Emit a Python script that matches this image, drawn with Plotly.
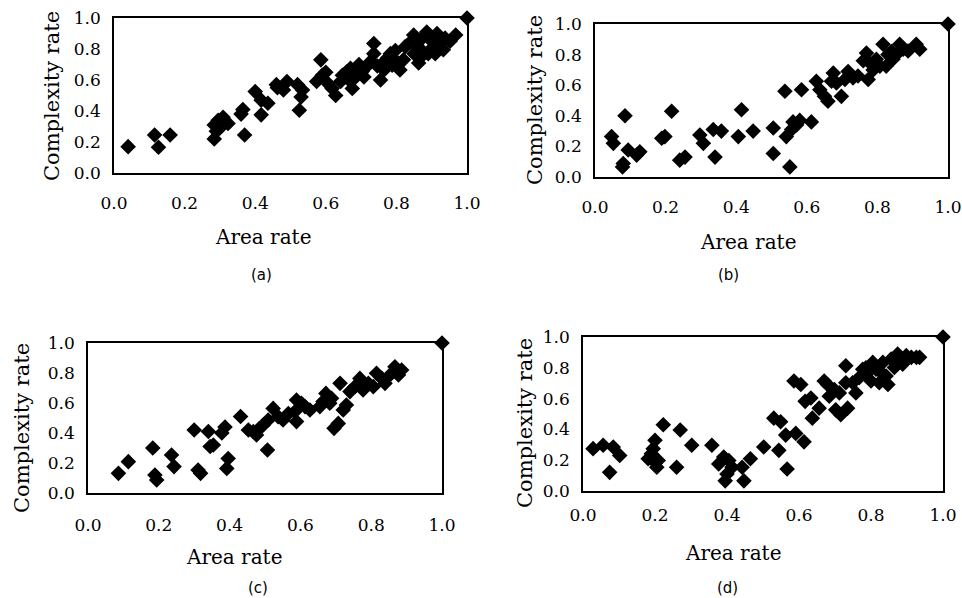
import plotly.graph_objects as go

# --- data ---
a_x = [0.04, 0.115, 0.126, 0.159, 0.284, 0.284, 0.295, 0.309, 0.323, 0.30, 0.29,
       0.365, 0.37, 0.36, 0.40, 0.417, 0.417, 0.436, 0.46, 0.48, 0.49, 0.463,
       0.52, 0.53, 0.525, 0.534, 0.574, 0.586, 0.59, 0.60, 0.605, 0.618, 0.628,
       0.642, 0.647, 0.66, 0.67, 0.675, 0.685, 0.694, 0.703, 0.717, 0.727, 0.736,
       0.736, 0.746, 0.755, 0.76, 0.774, 0.783, 0.797, 0.80, 0.81, 0.82, 0.825,
       0.84, 0.849, 0.858, 0.863, 0.868, 0.877, 0.886, 0.89, 0.896, 0.905, 0.915,
       0.924, 0.933, 0.938, 0.952, 0.968, 0.666, 0.708, 0.765, 0.788, 0.85, 0.87,
       0.91, 1.0]
a_y = [0.17, 0.245, 0.166, 0.245, 0.22, 0.31, 0.34, 0.36, 0.32, 0.29, 0.27,
       0.41, 0.245, 0.38, 0.525, 0.47, 0.375, 0.45, 0.57, 0.535, 0.59, 0.55,
       0.57, 0.49, 0.405, 0.535, 0.59, 0.73, 0.63, 0.65, 0.58, 0.545, 0.50,
       0.59, 0.63, 0.655, 0.675, 0.545, 0.62, 0.70, 0.655, 0.69, 0.72, 0.835,
       0.77, 0.69, 0.60, 0.705, 0.74, 0.77, 0.79, 0.72, 0.665, 0.73, 0.815,
       0.845, 0.89, 0.835, 0.71, 0.80, 0.88, 0.91, 0.77, 0.86, 0.815, 0.90,
       0.835, 0.795, 0.87, 0.85, 0.89, 0.60, 0.62, 0.665, 0.695, 0.77, 0.75,
       0.77, 1.0]

b_x = [0.047, 0.052, 0.085, 0.08, 0.078, 0.094, 0.118, 0.127, 0.189, 0.198,
       0.217, 0.24, 0.255, 0.297, 0.307, 0.335, 0.34, 0.358, 0.406, 0.415,
       0.448, 0.505, 0.505, 0.538, 0.552, 0.542, 0.557, 0.561, 0.571, 0.58,
       0.585, 0.613, 0.627, 0.637, 0.65, 0.66, 0.67, 0.675, 0.684, 0.698,
       0.708, 0.717, 0.731, 0.745, 0.769, 0.774, 0.778, 0.788, 0.797, 0.816,
       0.825, 0.83, 0.844, 0.858, 0.863, 0.873, 0.887, 0.91, 0.92, 0.76,
       0.807, 0.84, 1.0]
b_y = [0.264, 0.22, 0.40, 0.088, 0.066, 0.176, 0.143, 0.165, 0.253, 0.264,
       0.43, 0.11, 0.13, 0.275, 0.22, 0.31, 0.13, 0.30, 0.264, 0.44,
       0.30, 0.32, 0.154, 0.56, 0.066, 0.264, 0.31, 0.36, 0.34, 0.37,
       0.57, 0.36, 0.626, 0.57, 0.527, 0.495, 0.626, 0.68, 0.615, 0.527,
       0.637, 0.69, 0.648, 0.66, 0.81, 0.637, 0.747, 0.70, 0.77, 0.868,
       0.725, 0.80, 0.77, 0.81, 0.868, 0.835, 0.824, 0.868, 0.835, 0.76,
       0.725, 0.82, 1.0]

c_x = [0.086, 0.114, 0.183, 0.189, 0.194, 0.236, 0.243, 0.30, 0.311, 0.318,
       0.34, 0.345, 0.354, 0.378, 0.387, 0.392, 0.396, 0.431, 0.453, 0.467,
       0.476, 0.484, 0.495, 0.507, 0.509, 0.523, 0.537, 0.551, 0.566, 0.584,
       0.589, 0.589, 0.603, 0.613, 0.627, 0.655, 0.664, 0.672, 0.683, 0.688,
       0.695, 0.707, 0.712, 0.721, 0.73, 0.74, 0.754, 0.768, 0.777, 0.792,
       0.806, 0.815, 0.83, 0.839, 0.853, 0.867, 0.877, 0.886, 1.0]
c_y = [0.131, 0.209, 0.30, 0.12, 0.087, 0.253, 0.176, 0.42, 0.153, 0.131,
       0.41, 0.31, 0.32, 0.40, 0.44, 0.164, 0.23, 0.51, 0.42, 0.41,
       0.387, 0.43, 0.453, 0.287, 0.487, 0.564, 0.509, 0.487, 0.53, 0.542,
       0.476, 0.62, 0.598, 0.576, 0.553, 0.576, 0.61, 0.664, 0.598, 0.631,
       0.431, 0.464, 0.731, 0.553, 0.587, 0.676, 0.709, 0.764, 0.687, 0.731,
       0.709, 0.798, 0.764, 0.731, 0.787, 0.842, 0.787, 0.82, 1.0]

d_x = [0.028, 0.056, 0.074, 0.084, 0.102, 0.181, 0.19, 0.195, 0.2, 0.2,
       0.205, 0.209, 0.223, 0.26, 0.27, 0.302, 0.358, 0.377, 0.391, 0.395,
       0.40, 0.405, 0.414, 0.442, 0.447, 0.465, 0.502, 0.53, 0.544, 0.549,
       0.563, 0.567, 0.586, 0.591, 0.605, 0.614, 0.617, 0.633, 0.637, 0.656,
       0.67, 0.679, 0.684, 0.698, 0.702, 0.712, 0.716, 0.73, 0.73, 0.735,
       0.749, 0.758, 0.767, 0.777, 0.786, 0.80, 0.814, 0.823, 0.833, 0.842,
       0.847, 0.856, 0.865, 0.874, 0.884, 0.898, 0.912, 0.926, 0.935, 0.786,
       0.805, 0.828, 0.865, 0.888, 1.0]
d_y = [0.275, 0.297, 0.121, 0.286, 0.231, 0.209, 0.242, 0.275, 0.33, 0.187,
       0.154, 0.198, 0.43, 0.154, 0.396, 0.297, 0.297, 0.176, 0.22, 0.066,
       0.11, 0.198, 0.154, 0.154, 0.066, 0.209, 0.286, 0.473, 0.264, 0.45,
       0.363, 0.143, 0.714, 0.374, 0.692, 0.319, 0.582, 0.604, 0.473, 0.538,
       0.714, 0.692, 0.615, 0.659, 0.527, 0.637, 0.495, 0.813, 0.703, 0.538,
       0.703, 0.637, 0.736, 0.791, 0.758, 0.714, 0.791, 0.703, 0.835, 0.747,
       0.692, 0.857, 0.802, 0.89, 0.846, 0.879, 0.868, 0.868, 0.868, 0.80,
       0.835, 0.769, 0.857, 0.824, 1.0]

tick_vals = [0.0, 0.2, 0.4, 0.6, 0.8, 1.0]
tick_text = ["0.0", "0.2", "0.4", "0.6", "0.8", "1.0"]
captions = ["(a)", "(b)", "(c)", "(d)"]

W, H = 962, 598
SERIF = "DejaVu Serif"

# panel boxes in page pixels: left, right, top, bottom
boxes = [(114, 467, 18, 173), (595, 948, 24, 177),
         (88, 442, 343, 493), (583, 943, 337, 491)]
# (y title x,y), (x title x,y), (caption x,y), x-label standoff
labels = [((52, 96), (263, 237), (261, 275), 14),
          ((535, 100), (748, 242), (728, 275), 14),
          ((22, 428), (234, 557), (258, 588), 16),
          ((525, 423), (733, 553), (727, 588), 8)]
series = [(a_x, a_y), (b_x, b_y), (c_x, c_y), (d_x, d_y)]


def px(x):
    return x / W


def py(y):
    return 1 - y / H


fig = go.Figure()
layout = {}
annotations = []
for i, ((xs, ys), (l, r, t, b), (yt, xt, cp, sx)) in enumerate(zip(series, boxes, labels)):
    n = "" if i == 0 else str(i + 1)
    fig.add_trace(go.Scatter(
        x=xs, y=ys, mode="markers", xaxis="x" + n, yaxis="y" + n,
        marker=dict(symbol="diamond", size=12, color="black", line=dict(width=0)),
        cliponaxis=False, showlegend=False, hoverinfo="skip"))
    # automargin off so the domains stay in page pixels
    axis_common = dict(range=[0, 1], tickvals=tick_vals, ticktext=tick_text,
                       showgrid=False, zeroline=False, showline=True, mirror=True,
                       linecolor="black", linewidth=1.5, ticks="", automargin=False,
                       ticklabeloverflow="allow",
                       tickfont=dict(family=SERIF, size=17, color="black"))
    layout["xaxis" + n] = dict(axis_common, domain=[px(l), px(r)],
                               anchor="y" + n, ticklabelstandoff=sx)
    layout["yaxis" + n] = dict(axis_common, domain=[py(b), py(t)],
                               anchor="x" + n, ticklabelstandoff=8)
    annotations.append(dict(text="Complexity rate", x=px(yt[0]), y=py(yt[1]),
                            textangle=-90, font=dict(family=SERIF, size=21, color="black")))
    annotations.append(dict(text="Area rate", x=px(xt[0]), y=py(xt[1]),
                            font=dict(family=SERIF, size=20, color="black")))
    annotations.append(dict(text=captions[i], x=px(cp[0]), y=py(cp[1]),
                            font=dict(family="DejaVu Sans", size=15, color="black")))

for ann in annotations:
    ann.update(xref="paper", yref="paper", showarrow=False,
               xanchor="center", yanchor="middle")

fig.update_layout(**layout)
fig.update_layout(
    width=W, height=H,
    margin=dict(l=0, r=0, t=0, b=0, autoexpand=False),
    paper_bgcolor="white", plot_bgcolor="white",
    annotations=annotations,
)

# drop the default body margin so the figure fills the window exactly
fig.write_html("out.html", config={"displayModeBar": False},
               post_script="document.body.style.margin = '0px';")
